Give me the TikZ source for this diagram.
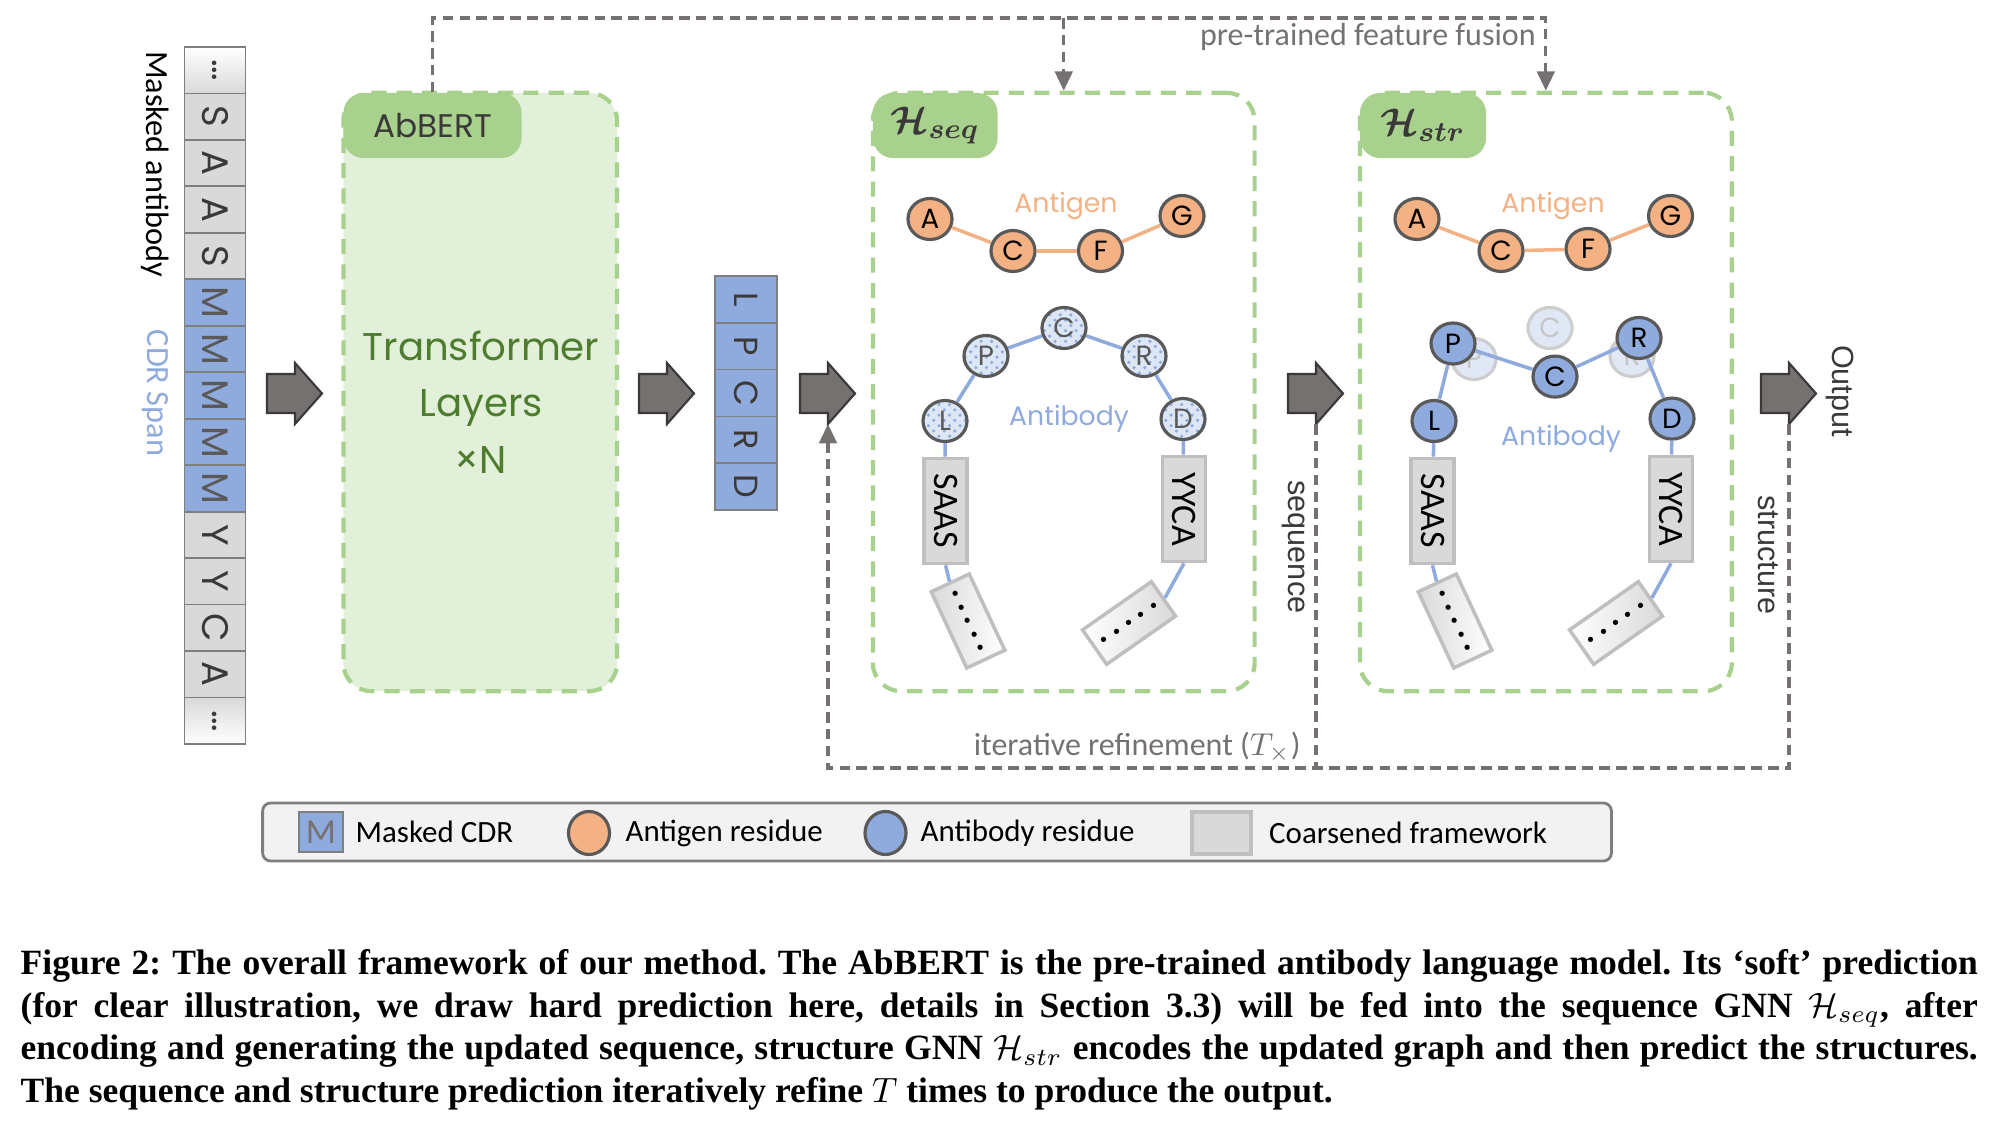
\documentclass[tikz,border=0pt]{standalone}
\usepackage{amsmath}
\usepackage{fontspec}
\setmainfont{Carlito}
\newfontfamily\geofont{Poppins}
\newfontfamily\arialfont{Liberation Sans}
\newfontfamily\capfont{Liberation Serif}
\usepackage{tikz}
\usetikzlibrary{calc,shapes.geometric,arrows.meta,patterns}
\definecolor{cellgray}{HTML}{D9D9D9}
\definecolor{cellline}{HTML}{7F7F7F}
\definecolor{cdrblue}{HTML}{8FAADC}
\definecolor{tabgreen}{HTML}{A9D18E}
\definecolor{boxgreen}{HTML}{E2F0D9}
\definecolor{txtgreen}{HTML}{4E7D30}
\definecolor{agorange}{HTML}{F4B183}
\definecolor{nodeline}{HTML}{595959}
\definecolor{arrowgray}{HTML}{767171}
\definecolor{darktext}{HTML}{3B3838}
\definecolor{fwline}{HTML}{BFBFBF}
\definecolor{legendbg}{HTML}{F2F2F2}

\tikzset{
  seqcell/.style={draw=cellline, line width=0.5pt, fill=cellgray, minimum width=0.61cm, minimum height=0.4647cm, inner sep=0pt, text=darktext, font=\geofont\fontsize{10.5}{11}\selectfont},
  cdrcell/.style={seqcell, fill=cdrblue, text=nodeline},
  topcell/.style={seqcell, top color=white, bottom color=cellgray},
  botcell/.style={seqcell, top color=cellgray, bottom color=white},
  predcell/.style={seqcell, fill=cdrblue, minimum width=0.62cm, minimum height=0.468cm, font=\geofont\fontsize{9.5}{10}\selectfont},
  gnnbox/.style={draw=tabgreen, line width=1.2pt, dash pattern=on 4.3pt off 2.9pt, rounded corners=0.28cm, inner sep=0pt},
  gnntab/.style={fill=tabgreen, rounded corners=0.2cm, minimum height=0.65cm, inner sep=0pt, text=darktext},
  agnode/.style={ellipse, draw=nodeline, line width=0.9pt, fill=agorange, minimum width=0.44cm, minimum height=0.41cm, inner sep=0pt, text=black, font=\geofont\fontsize{7.9}{8}\selectfont},
  abnode/.style={agnode, fill=cdrblue},
  dotnode/.style={agnode, preaction={fill=cdrblue!30}, pattern=crosshatch dots, pattern color=cdrblue, text=nodeline},
  ghostnode/.style={agnode, fill=cdrblue!28, draw=nodeline!30, text=nodeline!35},
  agedge/.style={draw=agorange, line width=1pt},
  abedge/.style={draw=cdrblue, line width=1pt},
  agtext/.style={text=agorange, font=\geofont\fontsize{7.6}{8}\selectfont},
  abtext/.style={text=cdrblue, font=\geofont\fontsize{7.6}{8}\selectfont},
  fwbox/.style={draw=fwline, line width=1pt, fill=cellgray, minimum width=0.43cm, minimum height=1.05cm, inner sep=0pt, font=\fontsize{10.2}{10}\selectfont},
  tiltbox/.style={draw=fwline, line width=1pt, left color=cellgray, right color=white, minimum width=0.84cm, minimum height=0.42cm, inner sep=0pt, font=\bfseries\fontsize{10}{10}\selectfont},
  blockarrow/.style={fill=arrowgray, draw=darktext, line width=0.6pt},
  fuse/.style={draw=arrowgray, line width=0.9pt, dash pattern=on 3pt off 1.8pt},
  fusetip/.style={-{Triangle[length=5.5pt, width=5pt]}},
  fusetext/.style={text=arrowgray, font=\fontsize{9.1}{10}\selectfont},
  sidetext/.style={rotate=-90, text=darktext, font=\arialfont\fontsize{8.7}{9}\selectfont},
  legendtext/.style={anchor=west, inner sep=0pt, font=\fontsize{8.8}{9}\selectfont},
}

\newcommand{\fivedots}{.\hspace{1.6pt}.\hspace{1.6pt}.\hspace{1.6pt}.\hspace{1.6pt}.}

\begin{document}
\begin{tikzpicture}[x=0.01cm, y=-0.01cm]
\useasboundingbox (0,0) rectangle (1995,1122);

% masked antibody sequence
\foreach \res/\kind [count=\i from 0] in {\dots/topcell, S/seqcell, A/seqcell, A/seqcell, S/seqcell, M/cdrcell, M/cdrcell, M/cdrcell, M/cdrcell, M/cdrcell, Y/seqcell, Y/seqcell, C/seqcell, A/seqcell, \dots/botcell}
  \node[\kind] (seq\i) at (215, 47+46.47*\i+23.2) {\rotatebox{-90}{\res}};
\node[rotate=-90, font=\fontsize{9.2}{10}\selectfont] (masklbl) at (155,164) {Masked antibody};
\node[rotate=-90, text=cdrblue, font=\fontsize{9.2}{10}\selectfont] (cdrlbl) at (155,393) {CDR Span};

% block arrows between the stages
\foreach \x/\n in {267/arA, 639/arB, 800/arC, 1288/arD, 1761/arE} {
  \draw[blockarrow] (\x,374) -- ++(28,0) -- ++(0,-11) -- ++(27,30.5) -- ++(-27,30.5) -- ++(0,-11) -- ++(-28,0) -- cycle;
  \coordinate (\n) at (\x+28,424);
}

% language model
\node[gnnbox, fill=boxgreen, minimum width=2.735cm, minimum height=5.98cm] (abbert) at (480.25,392) {};
\node[gnntab, minimum width=1.78cm, font=\geofont\fontsize{9.3}{10}\selectfont] (abtab) at (432.5,125.5) {AbBERT};
\node[text=txtgreen, align=center, font=\geofont\fontsize{11}{16}\selectfont] (layers) at (481,402) {Transformer\\Layers\\×N};

% predicted CDR
\foreach \res [count=\i from 0] in {L,P,C,R,D}
  \node[predcell] (pred\i) at (746, 276+46.8*\i+23.4) {\rotatebox{-90}{\res}};

% the two GNN boxes
\node[gnnbox, minimum width=3.815cm, minimum height=5.98cm] (hseq) at (1063.75,392) {};
\node[gnntab, minimum width=1.245cm, font=\fontsize{11}{12}\selectfont] (seqtab) at (935.25,125.5) {$\boldsymbol{\mathcal{H}_{seq}}$};
\node[gnnbox, minimum width=3.716cm, minimum height=5.98cm] (hstr) at (1545.8,392) {};
\node[gnntab, minimum width=1.26cm, font=\fontsize{11}{12}\selectfont] (strtab) at (1423,125.5) {$\boldsymbol{\mathcal{H}_{str}}$};

% sequence GNN graph
\node[agtext] (sagl) at (1066,206) {Antigen};
\node[agnode] (sA) at (930,219) {A};
\node[agnode] (sC) at (1013,251) {C};
\node[agnode] (sF) at (1100.5,251) {F};
\node[agnode] (sG) at (1182,216) {G};
\draw[agedge] (sA) -- (sC) -- (sF) -- (sG);

\node[abtext] (sabl) at (1069,419) {Antibody};
\node[dotnode] (sL) at (945,421) {L};
\node[dotnode] (sP) at (986,356) {P};
\node[dotnode] (sCc) at (1064,328) {C};
\node[dotnode] (sR) at (1144,356) {R};
\node[dotnode] (sD) at (1183,419) {D};
\node[fwbox] (sfl) at (945.5,511) {\rotatebox{-90}{SAAS}};
\node[fwbox] (sfr) at (1184,509) {\rotatebox{-90}{YYCA}};
\node[tiltbox, rotate=-65] (stl) at (968,621) {\fivedots};
\node[tiltbox, rotate=35, left color=white, right color=cellgray] (str) at (1129,623) {\fivedots};
\draw[abedge] (sfl) -- (sL) -- (sP) -- (sCc) -- (sR) -- (sD) -- (sfr);
\draw[abedge] (sfl.south) -- (stl.west);
\draw[abedge] (sfr.south) -- (str.east);

% structure GNN graph
\begin{scope}[shift={(487,0)}]
\node[agtext] (tagl) at (1066,206) {Antigen};
\node[agnode] (tA) at (930,219) {A};
\node[agnode] (tC) at (1014,251) {C};
\node[agnode] (tF) at (1101,249) {F};
\node[agnode] (tG) at (1183.5,216) {G};
\draw[agedge] (tA) -- (tC) -- (tF) -- (tG);

\node[ghostnode] (tPg) at (987,359) {P};
\node[ghostnode] (tCg) at (1063,328) {C};
\node[ghostnode] (tRg) at (1145,356) {R};
\node[abtext] (tabl) at (1074,439) {Antibody};
\node[abnode] (tL) at (947,421) {L};
\node[abnode] (tP) at (966,343.5) {P};
\node[abnode] (tCc) at (1068,376.6) {C};
\node[abnode] (tR) at (1152,338) {R};
\node[abnode] (tD) at (1185,418.6) {D};
\node[fwbox] (tfl) at (945.5,511) {\rotatebox{-90}{SAAS}};
\node[fwbox] (tfr) at (1184,509) {\rotatebox{-90}{YYCA}};
\node[tiltbox, rotate=-65] (ttl) at (968,621) {\fivedots};
\node[tiltbox, rotate=35, left color=white, right color=cellgray] (ttr) at (1129,623) {\fivedots};
\draw[abedge] (tfl) -- (tL) -- (tP) -- (tCc) -- (tR) -- (tD) -- (tfr);
\draw[abedge] (tfl.south) -- (ttl.west);
\draw[abedge] (tfr.south) -- (ttr.east);
\end{scope}

% pre-trained feature fusion
\coordinate (fusetop) at (0,18);
\draw[fuse, fusetip] (abtab.north) -- (abtab.north |- fusetop) -- (hstr.north |- fusetop) -- (hstr.north);
\draw[fuse, fusetip] (hseq.north |- fusetop) -- (hseq.north);
\node[fusetext, anchor=east] (fuselbl) at (1548,37) {pre-trained feature fusion};

% iterative refinement loop
\coordinate (loopbot) at (0,768);
\draw[fuse, fusetip] (arE) -- (arE |- loopbot) -- (arC |- loopbot) -- (arC);
\draw[fuse] (arD) -- (arD |- loopbot);
\node[fusetext, anchor=east] (iterlbl) at (1313,747) {iterative refinement ($T_{\times}$)};
\node[sidetext] (seqlbl) at (1294,547) {sequence};
\node[sidetext] (strlbl) at (1768,555) {structure};
\node[sidetext] (outlbl) at (1840,391) {Output};

% legend
\node[draw=cellline, fill=legendbg, line width=0.8pt, rounded corners=0.08cm, minimum width=13.48cm, minimum height=0.58cm] (legend) at (937,832) {};
\node[cdrcell, minimum width=0.44cm, minimum height=0.40cm, text=arrowgray, font=\fontsize{10}{10}\selectfont] (lgM) at (321,832) {M};
\node[legendtext] (lgMt) at (355,832) {Masked CDR};
\node[agnode, minimum width=0.41cm, minimum height=0.43cm] (lgAg) at (589,833) {};
\node[legendtext] (lgAgt) at (625,833) {Antigen residue};
\node[abnode, minimum width=0.41cm, minimum height=0.43cm] (lgAb) at (885.5,833) {};
\node[legendtext] (lgAbt) at (920,833) {Antibody residue};
\node[fwbox, minimum width=0.59cm, minimum height=0.42cm] (lgFw) at (1221.5,833) {};
\node[legendtext] (lgFwt) at (1268.5,833) {Coarsened framework};

% caption
\node[anchor=north west, text width=19.56cm, align=justify, inner sep=0pt, font=\capfont\bfseries\frenchspacing\fontsize{10.1}{12.1}\selectfont] (caption) at (20,949) {Figure 2: The overall framework of our method. The AbBERT is the pre-trained antibody language model. Its ‘soft’ prediction\linebreak (for clear illustration, we draw hard prediction here, details in Section 3.3) will be fed into the sequence GNN $\mathcal{H}_{seq}$, after\linebreak encoding and generating the updated sequence, structure GNN $\mathcal{H}_{str}$ encodes the updated graph and then predict the structures.\linebreak The sequence and structure prediction iteratively refine $T$ times to produce the output.};

\end{tikzpicture}
\end{document}
